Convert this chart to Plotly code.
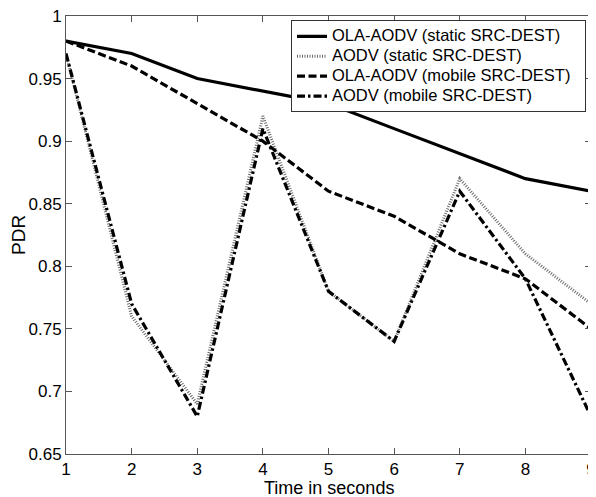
import plotly.graph_objects as go

time_s = [1, 2, 3, 4, 5, 6, 7, 8, 9]
ola_static = [0.98, 0.97, 0.95, 0.94, 0.93, 0.91, 0.89, 0.87, 0.86]
aodv_static = [0.97, 0.76, 0.69, 0.92, 0.78, 0.74, 0.87, 0.81, 0.77]
ola_mobile = [0.98, 0.96, 0.93, 0.90, 0.86, 0.84, 0.81, 0.79, 0.75]
aodv_mobile = [0.97, 0.77, 0.68, 0.91, 0.78, 0.74, 0.86, 0.79, 0.68]
y_ticks = [0.65, 0.7, 0.75, 0.8, 0.85, 0.9, 0.95, 1]
y_tick_text = ["0.65", "0.7", "0.75", "0.8", "0.85", "0.9", "0.95", "1"]
series_names = ["OLA-AODV (static SRC-DEST)", "AODV (static SRC-DEST)",
                "OLA-AODV (mobile SRC-DEST)", "AODV (mobile SRC-DEST)"]

styles = [
    dict(color="black", width=3.2, dash="solid"),
    dict(color="#6a6a6a", width=3, dash="1px,1.5px"),
    dict(color="black", width=3.2, dash="8px,3.5px"),
    dict(color="black", width=3.2, dash="8px,3px,2.5px,3px"),
]

fig = go.Figure()
for name, ys, st in zip(series_names, [ola_static, aodv_static, ola_mobile, aodv_mobile], styles):
    fig.add_trace(go.Scatter(x=time_s, y=ys, mode="lines",
                             name="<span style='font-size:16.5px'>" + name + "\u00a0\u00a0</span>",
                             line=st))

axis_common = dict(showgrid=False, zeroline=False, showline=True, linecolor="#555555",
                   linewidth=1, mirror="ticks", ticks="inside", ticklen=6,
                   tickcolor="#555555", tickfont=dict(size=17, color="black"),
                   ticklabeloverflow="allow", automargin=False)

# page body has an 8px default margin, so the figure is sized to fit the window
fig.update_layout(
    width=588, height=489,
    margin=dict(l=58, r=5, t=8, b=43),
    paper_bgcolor="white", plot_bgcolor="white",
    font=dict(family="Liberation Sans, Arial, sans-serif", color="black"),
    xaxis=dict(range=[1, 9], tickvals=time_s, ticktext=[str(t) for t in time_s],
               **axis_common),
    yaxis=dict(range=[0.65, 1], tickvals=y_ticks, ticktext=y_tick_text,
               **axis_common),
    legend=dict(x=0.9905, y=0.99, xanchor="right", yanchor="top", xref="paper", yref="paper",
                bgcolor="white", bordercolor="#333333", borderwidth=1,
                font=dict(size=13), tracegroupgap=0, itemwidth=30),
    showlegend=True,
    annotations=[
        dict(text="Time in seconds", xref="paper", yref="paper", x=0.5, y=0,
             xanchor="center", yanchor="middle", yshift=-34, showarrow=False,
             font=dict(size=18)),
        dict(text="PDR", xref="paper", yref="paper", x=0, y=0.5, textangle=-90,
             xanchor="center", yanchor="middle", xshift=-48, showarrow=False,
             font=dict(size=19)),
    ],
)

fig.write_html("out.html")
